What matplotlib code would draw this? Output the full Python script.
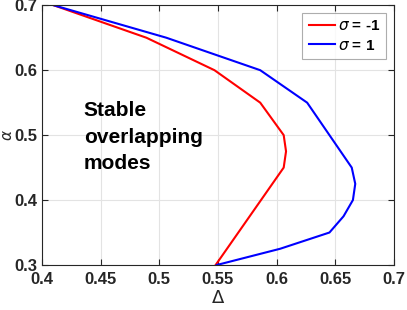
import numpy as np
import matplotlib
matplotlib.use('Agg')
import matplotlib.pyplot as plt

plt.rcParams['font.family'] = ['Liberation Sans', 'DejaVu Sans']
plt.rcParams['mathtext.fontset'] = 'dejavusans'

# sigma = -1 curve
alpha_neg = [0.7, 0.65, 0.6, 0.55, 0.5, 0.475, 0.45, 0.3]
delta_neg = [0.41, 0.489, 0.547, 0.586, 0.606, 0.608, 0.606, 0.548]

# sigma = 1 curve
alpha_pos = [0.7, 0.65, 0.6, 0.55, 0.45, 0.425, 0.4, 0.375, 0.35, 0.325, 0.3]
delta_pos = [0.41, 0.506, 0.586, 0.626, 0.664, 0.667, 0.665, 0.657, 0.645, 0.603, 0.549]

xticks = [0.4, 0.45, 0.5, 0.55, 0.6, 0.65, 0.7]
xticklabels = ['0.4', '0.45', '0.5', '0.55', '0.6', '0.65', '0.7']
yticks = [0.3, 0.4, 0.5, 0.6, 0.7]
yticklabels = ['0.3', '0.4', '0.5', '0.6', '0.7']

axcol = '#262626'

fig = plt.figure(figsize=(4.07, 3.10), dpi=100)
ax = fig.add_axes([0.1032, 0.1452, 0.8648, 0.8378])

ax.plot(delta_neg, alpha_neg, color='red', lw=1.5, label=r'$\sigma$ = -1')
ax.plot(delta_pos, alpha_pos, color='blue', lw=1.5, label=r'$\sigma$ = 1')

ax.set_xlim(0.4, 0.7)
ax.set_ylim(0.3, 0.7)
ax.set_xticks(xticks)
ax.set_xticklabels(xticklabels)
ax.set_yticks(yticks)
ax.set_yticklabels(yticklabels)
ax.tick_params(direction='in', top=True, right=True, length=4, width=0.8,
               colors=axcol, labelsize=12)
ax.tick_params(axis='x', pad=5)
ax.tick_params(axis='y', pad=3)
for lab in ax.get_xticklabels() + ax.get_yticklabels():
    lab.set_fontweight('bold')
for s in ax.spines.values():
    s.set_color(axcol)
    s.set_linewidth(0.8)
ax.grid(True, color='#e3e3e3', lw=0.8)
ax.set_axisbelow(True)

ax.set_xlabel(r'$\Delta$', fontsize=13, color=axcol, labelpad=2)
ax.set_ylabel(r'$\alpha$', fontsize=11, color=axcol, labelpad=0)

ax.text(0.4355, 0.497, 'Stable\noverlapping\nmodes', fontsize=15, fontweight='bold',
        color='black', va='center', ha='left', linespacing=1.5)

leg = ax.legend(loc='upper right', fontsize=11, frameon=True, fancybox=False,
                edgecolor='#999999', handlelength=1.7, handletextpad=0.2,
                borderpad=0.4, labelspacing=0.35, borderaxespad=0,
                bbox_to_anchor=(1 - 8 / 352, 1 - 8 / 260))
leg.get_frame().set_linewidth(0.8)
for t in leg.get_texts():
    t.set_fontweight('bold')

fig.savefig('out.png', dpi=100)
